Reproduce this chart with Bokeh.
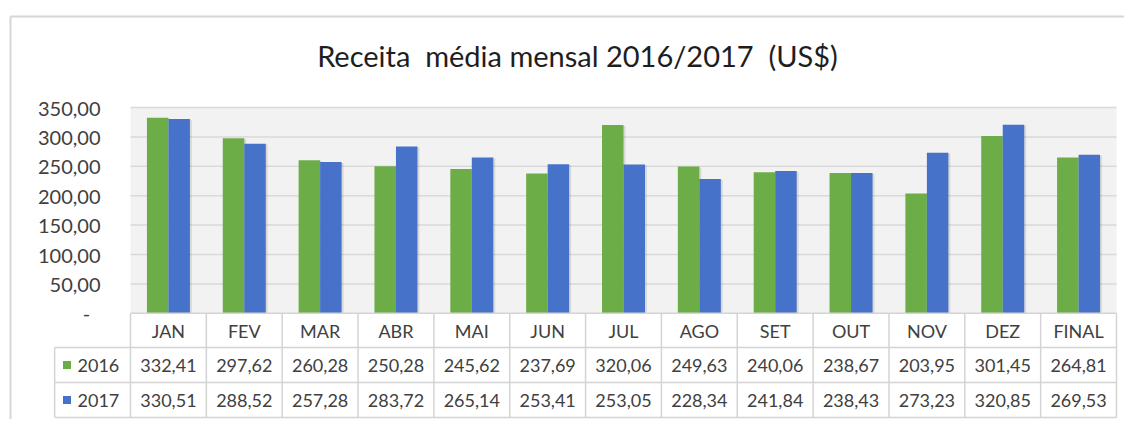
from bokeh.plotting import figure
from bokeh.models import Range1d, FixedTicker, Label
from bokeh.core.properties import value
from bokeh.embed import file_html
from bokeh.resources import INLINE

# ---------------- data ----------------
months = ["JAN", "FEV", "MAR", "ABR", "MAI", "JUN", "JUL", "AGO", "SET", "OUT", "NOV", "DEZ", "FINAL"]
series_names = ["2016", "2017"]
receita_2016 = [332.41, 297.62, 260.28, 250.28, 245.62, 237.69, 320.06, 249.63, 240.06, 238.67, 203.95, 301.45, 264.81]
receita_2017 = [330.51, 288.52, 257.28, 283.72, 265.14, 253.41, 253.05, 228.34, 241.84, 238.43, 273.23, 320.85, 269.53]
y_ticks = [0, 50, 100, 150, 200, 250, 300, 350]
y_tick_labels = ["-\u00a0\u00a0", "50,00", "100,00", "150,00", "200,00", "250,00", "300,00", "350,00"]
title_text = "Receita\u00a0 média mensal 2016/2017\u00a0 (US$)"

# ---------------- geometry (px of the picture) ----------------
W, H = 1124, 419
AREA_L, AREA_R = 130, 1116
ZERO_Y, TOP_Y = 312.8, 107.0
N = len(months)
col_w = (AREA_R - AREA_L) / N
ppu = (ZERO_Y - TOP_Y) / max(y_ticks)


def X(px):
    return (px - AREA_L) / col_w


def Y(py):
    return (ZERO_Y - py) / ppu


FONT = value("Lato")
GREEN = "#6CAD48"
BLUE = "#4672C9"
LINE = "#D4D4D4"
TXT = "#404040"

p = figure(width=W, height=H, output_backend="svg", toolbar_location=None,
           x_range=Range1d(X(0), X(W)),
           y_range=Range1d(Y(H), Y(0)),
           min_border=0, x_axis_type=None)
p.grid.visible = False
p.outline_line_color = None
p.background_fill_color = "white"
p.border_fill_color = "white"

# y axis
ax = p.yaxis[0]
ax.ticker = FixedTicker(ticks=y_ticks)
ax.major_label_overrides = {t: l for t, l in zip(y_ticks, y_tick_labels)}
ax.axis_line_color = None
ax.major_tick_line_color = None
ax.minor_tick_line_color = None
ax.major_tick_out = 0
ax.major_tick_in = 0
ax.major_label_standoff = -100
ax.major_label_text_font = "Lato"
ax.major_label_text_font_size = "20px"
ax.major_label_text_color = TXT

# outer chart border (top + left visible)
p.segment(x0=[X(10), X(10)], y0=[Y(16), Y(16)], x1=[X(W), X(10)], y1=[Y(16), Y(H)],
          line_color="#D6D6D6", line_width=2)

# title
p.add_layout(Label(x=X(577), y=Y(55), text=title_text, text_align="center",
                   text_baseline="middle", text_font="Lato", text_font_size="29px",
                   text_color="#1E1E1E"))

# plot area background & grid
p.quad(left=[0], right=[N], bottom=[0], top=[max(y_ticks)], fill_color="#F2F2F2", line_color=None)
p.segment(x0=[0] * (len(y_ticks) - 1), y0=y_ticks[1:], x1=[N] * (len(y_ticks) - 1), y1=y_ticks[1:],
          line_color="#D9D9D9", line_width=1.5)

# bars
bw = 21.5 / col_w
centers = [i + 0.5 for i in range(N)]
x16 = [c - bw / 2 for c in centers]
x17 = [c + bw / 2 for c in centers]
sh = 2.0 / col_w
p.vbar(x=[x + sh for x in x16], top=[v - 1.5 for v in receita_2016], bottom=0, width=bw,
       fill_color="black", fill_alpha=0.10, line_color=None)
p.vbar(x=[x + sh for x in x17], top=[v - 1.5 for v in receita_2017], bottom=0, width=bw,
       fill_color="black", fill_alpha=0.10, line_color=None)
p.vbar(x=x16, top=receita_2016, bottom=0, width=bw, fill_color=GREEN, line_color=None)
p.vbar(x=x17, top=receita_2017, bottom=0, width=bw, fill_color=BLUE, line_color=None)

# data table
hdr_b, r1_b, r2_b = Y(347), Y(382), Y(417)
hx0 = [0, -1, -1, -1]
hy = [0, hdr_b, r1_b, r2_b]
p.segment(x0=hx0, y0=hy, x1=[N] * 4, y1=hy, line_color=LINE, line_width=1.5)
vx = list(range(N + 1)) + [-1]
p.segment(x0=vx, y0=[0] * (N + 1) + [hdr_b], x1=vx, y1=[r2_b] * (N + 2), line_color=LINE, line_width=1.5)

hdr_c = Y(330)
r1_c = Y(364.5)
r2_c = Y(399.5)
p.text(x=centers, y=[hdr_c] * N, text=months, text_align="center", text_baseline="middle",
       text_font=FONT, text_font_size="18px", text_color=TXT)


def fmt(v):
    return f"{v:.2f}".replace(".", ",")


p.text(x=centers, y=[r1_c] * N, text=[fmt(v) for v in receita_2016], text_align="center",
       text_baseline="middle", text_font=FONT, text_font_size="18px", text_color=TXT)
p.text(x=centers, y=[r2_c] * N, text=[fmt(v) for v in receita_2017], text_align="center",
       text_baseline="middle", text_font=FONT, text_font_size="18px", text_color=TXT)

# legend keys in table
p.scatter(x=[X(66.5)] * 2, y=[r1_c, r2_c], marker="square", size=8,
          fill_color=[GREEN, BLUE], line_color=None)
p.text(x=[X(77)] * 2, y=[r1_c, r2_c], text=series_names, text_align="left", text_baseline="middle",
       text_font=FONT, text_font_size="18px", text_color=TXT)

open("out.html", "w").write(file_html(p, INLINE))
